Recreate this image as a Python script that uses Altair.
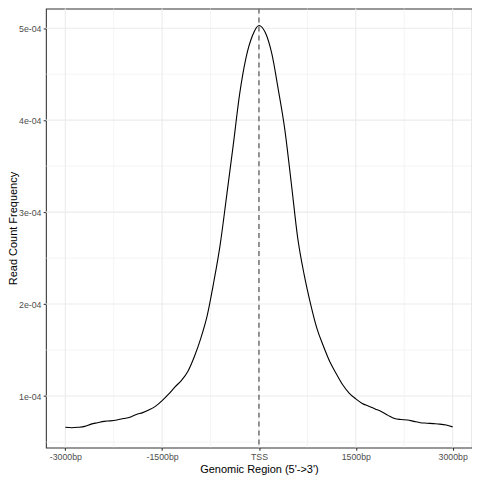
import altair as alt
import pandas as pd

# Genomic position relative to TSS (bp)
positions = [-3000, -2900, -2800, -2700, -2600, -2500, -2400, -2300, -2200, -2100,
             -2000, -1900, -1800, -1700, -1600, -1500, -1400, -1300, -1200, -1100,
             -1000, -900, -800, -700, -600, -500, -400, -300, -200, -100,
             0, 100, 200, 300, 400, 500, 600, 700, 800, 900,
             1000, 1100, 1200, 1300, 1400, 1500, 1600, 1700, 1800, 1900,
             2000, 2100, 2200, 2300, 2400, 2500, 2600, 2700, 2800, 2900, 3000]
# Read count frequency (in units of 1e-4)
freq_e4 = [0.66, 0.655, 0.66, 0.67, 0.695, 0.71, 0.725, 0.73, 0.74, 0.755,
           0.77, 0.80, 0.82, 0.85, 0.89, 0.95, 1.02, 1.10, 1.17, 1.27,
           1.43, 1.63, 1.88, 2.24, 2.65, 3.18, 3.72, 4.28, 4.68, 4.92,
           5.03, 4.95, 4.72, 4.33, 3.90, 3.32, 2.72, 2.32, 2.00, 1.73,
           1.54, 1.37, 1.24, 1.12, 1.03, 0.97, 0.92, 0.89, 0.86, 0.83,
           0.79, 0.755, 0.745, 0.74, 0.725, 0.71, 0.705, 0.70, 0.695, 0.685, 0.665]

x_major = [-3000, -1500, 0, 1500, 3000]
x_minor = [-2250, -750, 750, 2250]
y_major = [1e-4, 2e-4, 3e-4, 4e-4, 5e-4]
y_minor = [0.5e-4, 1.5e-4, 2.5e-4, 3.5e-4, 4.5e-4]
tss = [0]

df = pd.DataFrame({"pos": positions, "freq": [v * 1e-4 for v in freq_e4]})

FONT = "Liberation Sans"
xs = alt.Scale(domain=[-3300, 3300], nice=False, zero=False)
ys = alt.Scale(domain=[0.44e-4, 5.214e-4], nice=False, zero=False)
GRID = "#EBEBEB"

xaxis = alt.Axis(values=x_major, grid=False, domain=False,
                 labelExpr="datum.value == 0 ? 'TSS' : datum.value + 'bp'")
yaxis = alt.Axis(values=y_major, grid=False, domain=False,
                 titleX=-27, titleY=220, titleBaseline="bottom", titleAngle=270,
                 labelExpr="replace(format(datum.value, '.0e'), 'e-', 'e-0')")
XT = "Genomic Region (5'->3')"
YT = "Read Count Frequency"

xminor = alt.Chart(pd.DataFrame({"g": x_minor})).mark_rule(color=GRID, strokeWidth=0.55).encode(
    x=alt.X("g:Q", scale=xs, axis=xaxis, title=XT))
yminor = alt.Chart(pd.DataFrame({"g": y_minor})).mark_rule(color=GRID, strokeWidth=0.55).encode(
    y=alt.Y("g:Q", scale=ys, axis=yaxis, title=YT))
xmajor = alt.Chart(pd.DataFrame({"g": x_major})).mark_rule(color=GRID, strokeWidth=1.07).encode(
    x=alt.X("g:Q", scale=xs, axis=xaxis, title=XT))
ymajor = alt.Chart(pd.DataFrame({"g": y_major})).mark_rule(color=GRID, strokeWidth=1.07).encode(
    y=alt.Y("g:Q", scale=ys, axis=yaxis, title=YT))

line = alt.Chart(df).mark_line(color="black", strokeWidth=1.1, interpolate="monotone").encode(
    x=alt.X("pos:Q", scale=xs, title=XT, axis=xaxis),
    y=alt.Y("freq:Q", scale=ys, title=YT, axis=yaxis),
)

vline = alt.Chart(pd.DataFrame({"t": tss})).mark_rule(
    color="#444444", strokeWidth=1.1, strokeDash=[5, 4]).encode(
    x=alt.X("t:Q", scale=xs, axis=xaxis, title=XT))

chart = alt.layer(xminor, yminor, xmajor, ymajor, line, vline).properties(
    width=427, height=440,
    padding={"left": 38, "top": 0, "right": 0, "bottom": 28},
    autosize=alt.AutoSizeParams(type="none"),
    background="white",
).configure_view(
    stroke="#333333", strokeWidth=1.07
).configure_axis(
    tickSize=2.75, tickColor="#333333", tickWidth=1.07,
    labelColor="#4D4D4D", labelFontSize=8.8, labelFont=FONT, labelPadding=2.2,
    titleFont=FONT, titleFontSize=11, titleColor="black", titleFontWeight="normal",
    titlePadding=2.0, labelFlush=False, labelOverlap=False,
)

chart.save("out.html", embed_options={"renderer": "svg", "actions": False})
